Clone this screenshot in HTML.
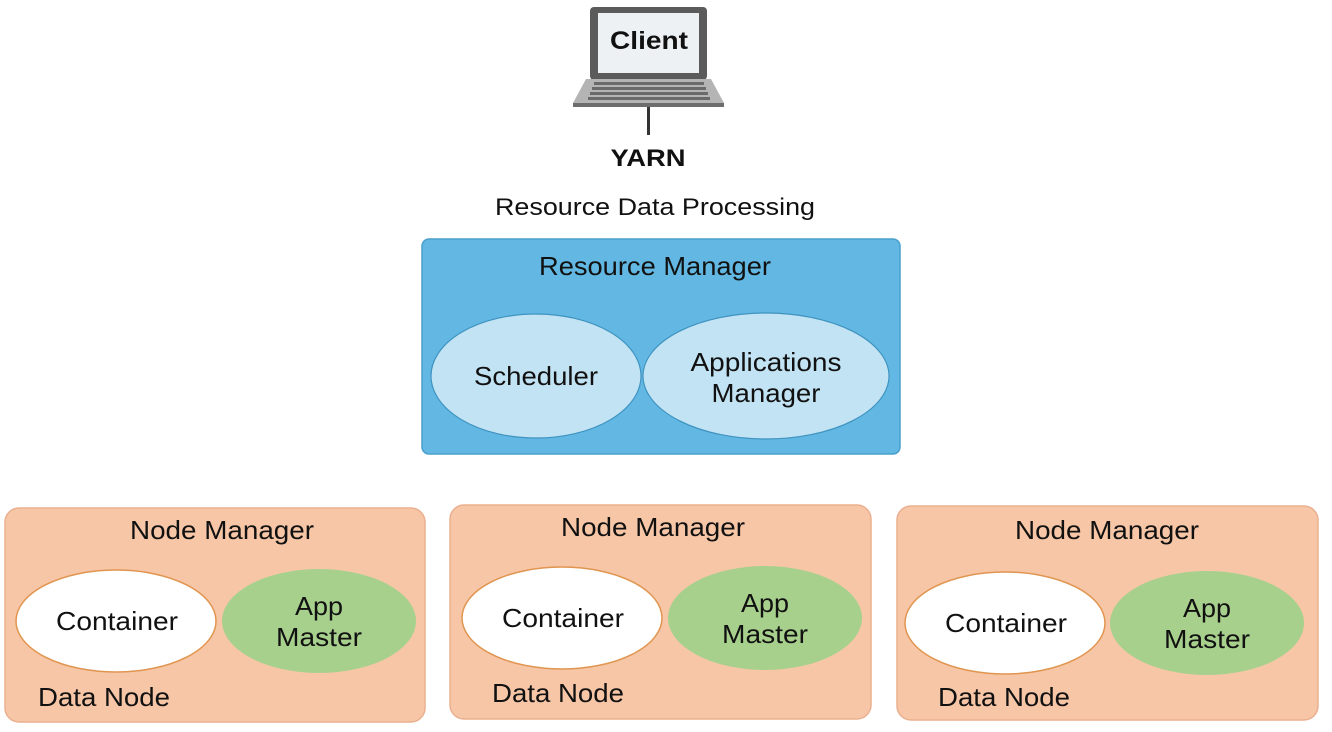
<!DOCTYPE html>
<html><head><meta charset="utf-8"><style>
html,body{margin:0;padding:0;background:#fff;}
svg{display:block;font-family:"Liberation Sans",sans-serif;}
</style></head><body>
<svg width="1332" height="732" viewBox="0 0 1332 732" xmlns="http://www.w3.org/2000/svg">
<!-- laptop -->
<rect x="590" y="7" width="117" height="73" rx="4" fill="#5b5b5b"/>
<rect x="598" y="13" width="101" height="60" fill="#eef1f3"/>
<text x="649" y="49" font-size="25" font-weight="bold" text-anchor="middle" fill="#111" textLength="78" lengthAdjust="spacingAndGlyphs">Client</text>
<polygon points="586,79 711,79 724,103 573,103" fill="#b4b4b4"/>
<rect x="573" y="103" width="151" height="4" fill="#6d6d6d"/>
<g fill="#6a6a6a">
<rect x="594" y="82" width="110" height="3"/>
<rect x="592" y="87" width="114" height="3"/>
<rect x="590" y="92" width="118" height="3"/>
<rect x="588" y="97" width="122" height="3"/>
</g>
<rect x="647" y="107" width="3" height="28" fill="#333"/>
<text x="648" y="166" font-size="24" font-weight="bold" text-anchor="middle" fill="#111" textLength="75" lengthAdjust="spacingAndGlyphs">YARN</text>
<text x="655" y="215" font-size="24" text-anchor="middle" fill="#111" textLength="320" lengthAdjust="spacingAndGlyphs">Resource Data Processing</text>
<!-- resource manager -->
<rect x="422" y="239" width="478" height="215" rx="7" fill="#62b8e2" stroke="#4aa0cc" stroke-width="1.5"/>
<text x="655" y="275" font-size="26" text-anchor="middle" fill="#111" textLength="232" lengthAdjust="spacingAndGlyphs">Resource Manager</text>
<ellipse cx="536" cy="376" rx="105" ry="62" fill="#c2e3f3" stroke="#3f93c0" stroke-width="1.2"/>
<text x="536" y="385" font-size="26" text-anchor="middle" fill="#111" textLength="124" lengthAdjust="spacingAndGlyphs">Scheduler</text>
<ellipse cx="766" cy="376" rx="123" ry="63" fill="#c2e3f3" stroke="#3f93c0" stroke-width="1.2"/>
<text x="766" y="371" font-size="26" text-anchor="middle" fill="#111" textLength="151" lengthAdjust="spacingAndGlyphs">Applications</text>
<text x="766" y="402" font-size="26" text-anchor="middle" fill="#111" textLength="109" lengthAdjust="spacingAndGlyphs">Manager</text>
<!-- node managers -->
<g>
<rect x="5" y="508" width="420" height="214" rx="14" fill="#f7c6a6" stroke="#eab08f" stroke-width="1.5"/>
<text x="222" y="539" font-size="26" text-anchor="middle" fill="#111" textLength="184" lengthAdjust="spacingAndGlyphs">Node Manager</text>
<ellipse cx="116" cy="621" rx="100" ry="51" fill="#fff" stroke="#e09550" stroke-width="1.5"/>
<text x="117" y="630" font-size="26" text-anchor="middle" fill="#111" textLength="122" lengthAdjust="spacingAndGlyphs">Container</text>
<ellipse cx="319" cy="621" rx="97" ry="52" fill="#a8d08d"/>
<text x="319" y="615" font-size="26" text-anchor="middle" fill="#111" textLength="48" lengthAdjust="spacingAndGlyphs">App</text>
<text x="319" y="646" font-size="26" text-anchor="middle" fill="#111" textLength="86" lengthAdjust="spacingAndGlyphs">Master</text>
<text x="38" y="706" font-size="26" fill="#111" textLength="132" lengthAdjust="spacingAndGlyphs">Data Node</text>
</g>
<g>
<rect x="450" y="505" width="421" height="214" rx="14" fill="#f7c6a6" stroke="#eab08f" stroke-width="1.5"/>
<text x="653" y="536" font-size="26" text-anchor="middle" fill="#111" textLength="184" lengthAdjust="spacingAndGlyphs">Node Manager</text>
<ellipse cx="562" cy="618" rx="100" ry="51" fill="#fff" stroke="#e09550" stroke-width="1.5"/>
<text x="563" y="627" font-size="26" text-anchor="middle" fill="#111" textLength="122" lengthAdjust="spacingAndGlyphs">Container</text>
<ellipse cx="765" cy="618" rx="97" ry="52" fill="#a8d08d"/>
<text x="765" y="612" font-size="26" text-anchor="middle" fill="#111" textLength="48" lengthAdjust="spacingAndGlyphs">App</text>
<text x="765" y="643" font-size="26" text-anchor="middle" fill="#111" textLength="86" lengthAdjust="spacingAndGlyphs">Master</text>
<text x="492" y="702" font-size="26" fill="#111" textLength="132" lengthAdjust="spacingAndGlyphs">Data Node</text>
</g>
<g>
<rect x="897" y="506" width="421" height="214" rx="14" fill="#f7c6a6" stroke="#eab08f" stroke-width="1.5"/>
<text x="1107" y="539" font-size="26" text-anchor="middle" fill="#111" textLength="184" lengthAdjust="spacingAndGlyphs">Node Manager</text>
<ellipse cx="1005" cy="623" rx="100" ry="51" fill="#fff" stroke="#e09550" stroke-width="1.5"/>
<text x="1006" y="632" font-size="26" text-anchor="middle" fill="#111" textLength="122" lengthAdjust="spacingAndGlyphs">Container</text>
<ellipse cx="1207" cy="623" rx="97" ry="52" fill="#a8d08d"/>
<text x="1207" y="617" font-size="26" text-anchor="middle" fill="#111" textLength="48" lengthAdjust="spacingAndGlyphs">App</text>
<text x="1207" y="648" font-size="26" text-anchor="middle" fill="#111" textLength="86" lengthAdjust="spacingAndGlyphs">Master</text>
<text x="938" y="706" font-size="26" fill="#111" textLength="132" lengthAdjust="spacingAndGlyphs">Data Node</text>
</g>
</svg>
</body></html>
